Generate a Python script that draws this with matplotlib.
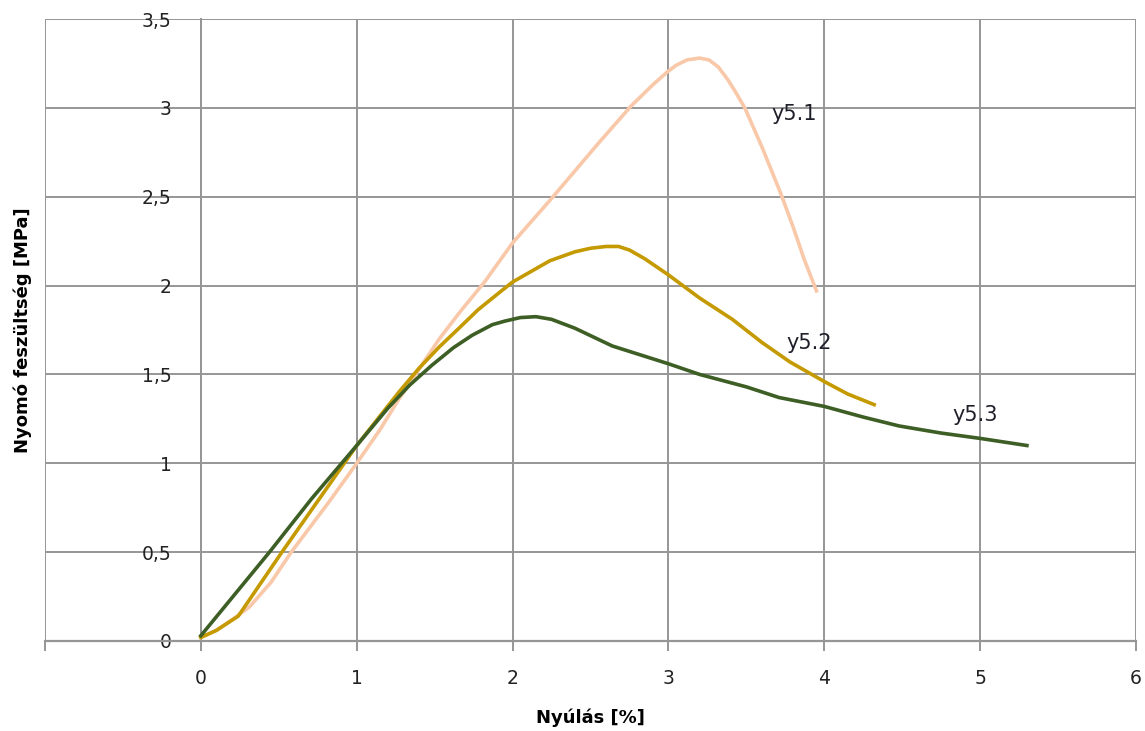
import matplotlib.pyplot as plt

# nyomóvizsgálat: nyúlás [%] -> feszültség [MPa]
x51 = [0, 0.1, 0.2, 0.31, 0.45, 0.58, 0.7, 0.82, 1.0, 1.15, 1.27, 1.4, 1.53, 1.67, 1.82, 2.0, 2.25,
       2.55, 2.76, 2.9, 2.99, 3.05, 3.12, 3.2, 3.26, 3.32, 3.38, 3.43, 3.49, 3.6, 3.72, 3.8, 3.87, 3.95]
y51 = [0.02, 0.06, 0.12, 0.19, 0.33, 0.5, 0.64, 0.78, 1.0, 1.19, 1.36, 1.53, 1.70, 1.86, 2.02, 2.24, 2.49,
       2.80, 3.01, 3.13, 3.20, 3.24, 3.27, 3.28, 3.27, 3.23, 3.16, 3.09, 3.0, 2.78, 2.52, 2.33, 2.15, 1.97]

x52 = [0, 0.1, 0.24, 0.52, 0.76, 1.0, 1.27, 1.4, 1.53, 1.65, 1.78, 1.9, 2.0, 2.12, 2.24, 2.4, 2.5, 2.6,
       2.68, 2.75, 2.85, 3.0, 3.2, 3.41, 3.6, 3.78, 4.0, 4.15, 4.32]
y52 = [0.02, 0.06, 0.14, 0.5, 0.80, 1.10, 1.40, 1.535, 1.655, 1.755, 1.865, 1.95, 2.02, 2.08, 2.14, 2.19, 2.21, 2.22,
       2.22, 2.20, 2.15, 2.06, 1.93, 1.81, 1.68, 1.57, 1.46, 1.39, 1.33]

x53 = [0, 0.44, 0.71, 1.0, 1.2, 1.34, 1.48, 1.62, 1.74, 1.87, 1.95, 2.05, 2.15, 2.25, 2.4, 2.64,
       3.0, 3.2, 3.5, 3.71, 4.0, 4.25, 4.48, 4.75, 5.0, 5.15, 5.30]
y53 = [0.03, 0.5, 0.80, 1.10, 1.31, 1.44, 1.55, 1.65, 1.72, 1.78, 1.80, 1.82, 1.825, 1.81, 1.76, 1.66,
       1.56, 1.50, 1.43, 1.37, 1.32, 1.26, 1.21, 1.17, 1.14, 1.12, 1.10]

xticks = [-1, 0, 1, 2, 3, 4, 5, 6]
xticklabels = ["", "0", "1", "2", "3", "4", "5", "6"]
yticks = [0, 0.5, 1, 1.5, 2, 2.5, 3, 3.5]
yticklabels = ["0", "0,5", "1", "1,5", "2", "2,5", "3", "3,5"]

series_names = ["y5.1", "y5.2", "y5.3"]
name_pos = [(3.66, 2.93), (3.76, 1.645), (4.82, 1.237)]

fig = plt.figure(figsize=(11.45, 7.31), dpi=100)
ax = fig.add_axes([45 / 1145, 90 / 731, 1091 / 1145, 622 / 731])

grid_c = "#969696"
ax.plot(x51, y51, color="#F9C8A9", lw=2.6, solid_joinstyle="round", zorder=3)
ax.plot(x52, y52, color="#C49A00", lw=2.6, solid_joinstyle="round", zorder=4)
ax.plot(x53, y53, color="#3D5E24", lw=2.6, solid_joinstyle="round", zorder=5)

for name, (tx, ty) in zip(series_names, name_pos):
    ax.text(tx, ty, name, fontsize=15, color="#1f1f2a", ha="left", va="baseline", zorder=6)

ax.set_xlim(-1, 6)
ax.set_ylim(0, 3.5)
ax.set_xticks(xticks)
ax.set_xticklabels(xticklabels)
ax.set_yticks(yticks)
ax.set_yticklabels(yticklabels)
ax.grid(True, color=grid_c, lw=1.4, zorder=1)
ax.set_axisbelow(True)

for s in ["top", "right"]:
    ax.spines[s].set_visible(False)
ax.spines["left"].set_position(("data", 0))
ax.spines["left"].set_color(grid_c)
ax.spines["left"].set_linewidth(1.4)
ax.spines["bottom"].set_color(grid_c)
ax.spines["bottom"].set_linewidth(1.6)

ax.tick_params(axis="x", length=7, width=1.4, color=grid_c, pad=13, labelsize=13.5, labelcolor="#222222")
ax.tick_params(axis="y", length=0, pad=21, labelsize=13.5, labelcolor="#222222")

ax.set_xlabel("Nyúlás [%]", fontsize=13, fontweight="bold")
ax.xaxis.set_label_coords(0.5, -0.108)
ax.set_ylabel("Nyomó feszültség [MPa]", fontsize=13, fontweight="bold")
ax.yaxis.set_label_coords(-0.0115, 0.5)

fig.savefig("out.png", dpi=100)
